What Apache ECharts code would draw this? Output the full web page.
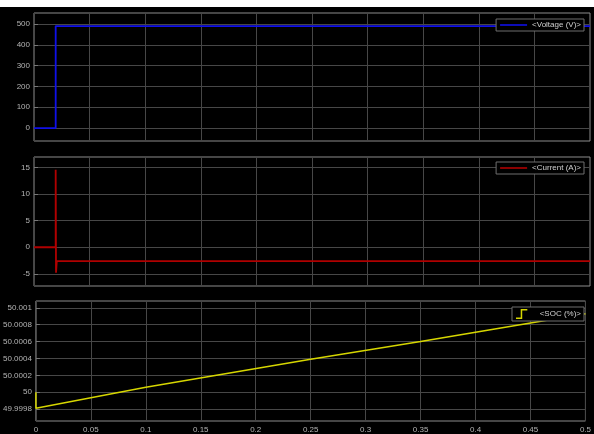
<!DOCTYPE html>
<html>
<head>
<meta charset="utf-8">
<script src="https://cdn.jsdelivr.net/npm/echarts@6/dist/echarts.min.js"></script>
<style>
  html, body { margin: 0; padding: 0; background: #000; }
  #main { width: 594px; height: 434px; }
</style>
</head>
<body>
<div id="main"></div>
<script>
// time axis (s)
var timeMax = 0.5;

// scope 1: voltage
var voltageData = [[0, 0], [0.0195, 0], [0.0195, 490], [0.5, 490]];
var voltTicks = [0, 100, 200, 300, 400, 500];

// scope 2: current
var currentData = [[0, 0], [0.0195, 0], [0.0195, 14.6], [0.0198, -4.8], [0.0205, -2.6], [0.5, -2.6]];
var currTicks = [-5, 0, 5, 10, 15];

// scope 3: state of charge
var socData = [[0, 50], [0, 49.99981], [0.1, 50.00006], [0.25, 50.00039], [0.35, 50.0006],
               [0.4, 50.00071], [0.45, 50.00082], [0.5, 50.00093]];
var socTicks = [49.9998, 50, 50.0002, 50.0004, 50.0006, 50.0008, 50.001];

var gridLine = '#474747';
var frame = '#8c8c8c';
var labelColor = '#b4b4b4';
var font = 'Liberation Sans, Arial, sans-serif';

// legend icons
var lineIcon = 'path://M0,0 L27,0 L27,1.6 L0,1.6 Z';
var stepIcon = 'path://M0,9 L5,9 L5,0 L12,0 L12,1.6 L6.6,1.6 L6.6,10.6 L0,10.6 Z';

function xAxis(idx, showLabel) {
    return {
        type: 'value', gridIndex: idx, min: 0, max: timeMax, interval: 0.05,
        axisLine: { show: false },
        axisTick: { show: false },
        splitLine: { show: true, lineStyle: { color: gridLine, width: 1 } },
        axisLabel: {
            show: showLabel, color: labelColor, fontSize: 8, fontFamily: font, margin: 5,
            formatter: function (v) { return +v.toFixed(2); }
        }
    };
}

function yAxis(idx, min, max, ticks, dec) {
    return {
        type: 'value', gridIndex: idx, min: min, max: max,
        axisLine: { show: false },
        axisTick: { show: true, inside: true, length: 4, customValues: ticks, lineStyle: { color: '#777' } },
        splitLine: { show: true, lineStyle: { color: gridLine, width: 1 } },
        axisLabel: {
            customValues: ticks, color: labelColor, fontSize: 8, fontFamily: font, margin: 4,
            formatter: function (v) { return String(+v.toFixed(dec)); }
        }
    };
}

function legend(name, top, icon, w) {
    return {
        data: [{ name: name, icon: icon }],
        right: 10, top: top,
        orient: 'horizontal',
        padding: [2, 3, 2, 4],
        itemWidth: w, itemHeight: 10,
        backgroundColor: '#000',
        borderColor: '#6e6e6e', borderWidth: 1, borderRadius: 0,
        selectedMode: false,
        itemStyle: { borderWidth: 0 },
        textStyle: { color: '#d0d0d0', fontSize: 8, fontFamily: font }
    };
}

var chart = echarts.init(document.getElementById('main'));
chart.setOption({
    animation: false,
    backgroundColor: '#000',
    graphic: [
        { type: 'rect', shape: { x: 0, y: 0, width: 594, height: 7 }, style: { fill: '#fff' } }
    ],
    grid: [
        { left: 34, right: 4, top: 13, height: 128, show: true, borderColor: frame, borderWidth: 1, backgroundColor: 'transparent' },
        { left: 34, right: 4, top: 157, height: 129, show: true, borderColor: frame, borderWidth: 1, backgroundColor: 'transparent' },
        { left: 34, right: 4, top: 301, height: 122, show: true, borderColor: frame, borderWidth: 1, backgroundColor: 'transparent' }
    ],
    xAxis: [xAxis(0, false), xAxis(1, false), xAxis(2, true)],
    yAxis: [
        yAxis(0, -62, 553, voltTicks, 0),
        yAxis(1, -7.3, 17, currTicks, 0),
        yAxis(2, 49.99966, 50.00108, socTicks, 4)
    ],
    legend: [
        legend('<Voltage (V)>', 19, lineIcon, 27),
        legend('<Current (A)>', 162, lineIcon, 27),
        legend('<SOC (%)>', 307, stepIcon, 26)
    ],
    series: [
        {
            name: '<Voltage (V)>', type: 'line', xAxisIndex: 0, yAxisIndex: 0,
            data: voltageData, showSymbol: false, symbol: 'none',
            color: '#1010e8', lineStyle: { width: 1.8, color: '#1010e8' }
        },
        {
            name: '<Current (A)>', type: 'line', xAxisIndex: 1, yAxisIndex: 1,
            data: currentData, showSymbol: false, symbol: 'none',
            color: '#b00000', lineStyle: { width: 1.8, color: '#b00000' }
        },
        {
            name: '<SOC (%)>', type: 'line', xAxisIndex: 2, yAxisIndex: 2,
            data: socData, showSymbol: false, symbol: 'none',
            color: '#d6d600', lineStyle: { width: 1.5, color: '#d6d600' }
        }
    ]
});
</script>
</body>
</html>
